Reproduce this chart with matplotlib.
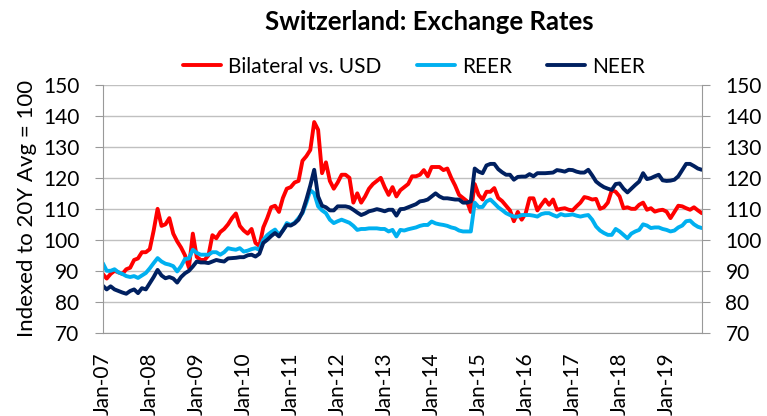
import numpy as np
import pandas as pd
import matplotlib
matplotlib.use('Agg')
import matplotlib.pyplot as plt

# Monthly index values, Jan-07 .. Oct-19
bilateral = [
    89, 87.5, 89, 90, 89.5, 89, 90.5, 91, 93.5, 94, 96, 96,
    97, 103, 110, 104.5, 105, 107, 102, 99.5, 97.5, 95, 91, 102,
    94.5, 93.5, 93.5, 95, 101.5, 100.5, 102.5, 103.5, 105, 107, 108.5, 104.5,
    103, 102, 103.5, 99, 98, 104, 107, 110.5, 111, 109, 113.5, 116.5,
    117, 118.5, 119, 125.5, 127, 129, 138, 135.5, 121.5, 125, 119, 116.5,
    118.5, 121, 121, 120, 112, 115, 112, 114, 116.5, 118, 119, 120,
    117, 114.5, 117, 114, 116, 117, 118, 120.5, 120.5, 121, 122.5, 120.5,
    123.5, 123.5, 123.5, 122.5, 123, 120, 117.5, 114.5, 113.5, 112.5, 109, 118,
    114.5, 113, 115.5, 115.5, 116.7, 113.5, 112.5, 111, 109.5, 106, 109, 106.5,
    108.5, 113.4, 113.4, 109.5, 111.3, 113, 111.3, 113, 109.7, 110, 110.2, 109.7,
    109.5, 110.8, 112, 113.8, 113.5, 113, 113.2, 110, 110.5, 112, 116, 115.5,
    114, 110.2, 110.5, 110, 110, 111.3, 112, 109.7, 110.2, 109.1, 109.5, 109.7,
    109.1, 107, 109, 111, 110.8, 110.2, 109.7, 110.5, 109.5, 108.6,
]
reer = [
    92.5, 90, 90, 90.5, 89.5, 89, 88.3, 88, 88.3, 87.7, 88.5, 89.3,
    90.8, 92.5, 94.1, 93, 92.3, 92, 91.5, 89.8, 91.5, 93.8, 94, 96.8,
    95.8, 95.2, 95.2, 95.2, 96, 96, 95.2, 96, 97.3, 97, 96.8, 97.3,
    96.2, 96.5, 97, 97.3, 96.8, 100, 101.5, 102.5, 103.3, 101.6, 103, 105.4,
    104.8, 105.5, 107, 108.6, 112, 116, 115, 110.8, 109.5, 108.6, 106.5, 105.4,
    106, 106.5, 106, 105.5, 104.5, 103.2, 103.5, 103.5, 103.7, 103.7, 103.7, 103.5,
    103.5, 102.7, 103.2, 101.1, 103.2, 103, 103.4, 103.7, 104, 104.5, 104.8, 104.8,
    105.9, 105.3, 105, 104.8, 104.5, 104, 103.7, 103, 102.7, 102.7, 102.7, 112,
    110.6, 110.6, 112.4, 113, 111.8, 110.5, 109.6, 108.6, 108, 107.5, 107.5, 108,
    108, 108, 107.8, 107.5, 108.3, 108.6, 108.6, 108, 107.5, 108.3, 107.9, 108,
    108.2, 107.8, 107.5, 107.8, 108, 106.5, 104.3, 103, 102.2, 101.6, 101.6, 103.5,
    102.7, 101.6, 100.5, 102, 102.7, 103.2, 105, 104.6, 103.8, 104, 104, 103.5,
    103.2, 102.7, 103, 104, 104.6, 106, 106.2, 105, 104.2, 103.8,
]
neer = [
    85.2, 84, 85, 84, 83.5, 83, 82.6, 83.5, 84, 82.8, 84.4, 84,
    86, 88, 90.3, 88.5, 87.6, 88, 87.5, 86.2, 88, 89.2, 90, 91.4,
    93, 92.7, 92.7, 92.5, 93, 93.5, 93.2, 93, 94, 94.1, 94.2, 94.4,
    94.4, 95, 95.2, 94.6, 95.5, 99, 100, 101.2, 102.2, 101.1, 103, 104.8,
    104.6, 105.3, 106.5, 109, 113, 117.5, 122.6, 114, 111, 110.5, 109.5, 109.5,
    110.8, 110.8, 110.8, 110.5, 109.7, 108.8, 108, 108.5, 109.2, 109.5, 109.9, 109.6,
    109.2, 109.7, 109.7, 107.8, 109.9, 110, 110.5, 111, 111.5, 112.4, 112.6, 113,
    114, 115, 114, 113.4, 113.4, 113.2, 113, 113, 112, 112, 112.4, 123,
    122, 121.5, 124, 124.5, 124.5, 122.8, 121.8, 121, 121, 119.4, 120.3, 120.4,
    120.4, 121.2, 120.5, 121.5, 121.5, 121.5, 121.6, 121.7, 122.5, 122.3, 122, 122.6,
    122.5, 122, 121.7, 121.7, 122.6, 120.8, 118.8, 117.8, 117, 116.5, 116.1, 118,
    118.2, 116.5, 115.3, 116.5, 117.7, 118.8, 121.5, 119.6, 119.9, 120.5, 121, 119.2,
    119, 119.1, 119.4, 120.5, 122.5, 124.5, 124.5, 123.8, 123, 122.6,
]

dates = pd.date_range('2007-01-01', periods=len(bilateral), freq='MS')
data = pd.DataFrame({'Bilateral vs. USD': bilateral, 'REER': reer, 'NEER': neer}, index=dates)

tick_labels = [f'Jan-{y % 100:02d}' for y in range(2007, 2020)]
tick_pos = [i * 12 for i in range(len(tick_labels))]

plt.rcParams['font.family'] = ['Lato', 'DejaVu Sans']

fig = plt.figure(figsize=(7.67, 4.16), dpi=100)
ax = fig.add_axes([0.134, 0.2, 0.781, 0.596])

x = np.arange(len(data))
colors = {'Bilateral vs. USD': '#FF0000', 'REER': '#00B0F0', 'NEER': '#002060'}
for col in data.columns:
    ax.plot(x, data[col], color=colors[col], linewidth=2.8, label=col, solid_capstyle='round')

ax.set_xlim(0, len(data) - 1)
ax.set_ylim(70, 150)
ax.set_yticks(range(70, 151, 10))
ax.grid(axis='y', color='#C0C0C0', linewidth=1)
ax.set_axisbelow(True)

ax.set_xticks(tick_pos)
ax.set_xticklabels(tick_labels, rotation=90, fontsize=15)
ax.tick_params(axis='x', length=0, pad=14)
ax.tick_params(axis='y', which='both', left=True, right=True, labelleft=True, labelright=True,
               length=6, color='#999999', labelsize=15, direction='out', pad=11)

for side in ['left', 'right', 'bottom']:
    ax.spines[side].set_color('#999999')
ax.spines['top'].set_visible(False)

ax.set_ylabel('Indexed to 20Y Avg = 100', fontsize=16, labelpad=4)

fig.suptitle('Switzerland: Exchange Rates', x=0.56, y=0.975, fontsize=18.5, fontweight='bold')
fig.legend(loc='center', bbox_to_anchor=(0.54, 0.84), ncol=3, frameon=False, fontsize=15,
           handlelength=1.8, handletextpad=0.35, columnspacing=1.7)

plt.savefig('out.png', dpi=100)
